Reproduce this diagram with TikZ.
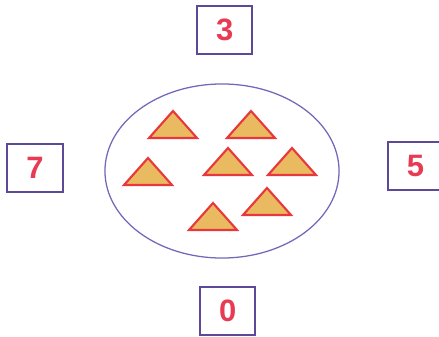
\documentclass[tikz,border=0pt]{standalone}
\usepackage{fontspec}
\setmainfont{Liberation Sans}
\usetikzlibrary{positioning,shapes.geometric}
\definecolor{boxline}{RGB}{92,74,152}
\definecolor{digitred}{RGB}{232,58,82}
\definecolor{ovalline}{RGB}{112,104,184}
\definecolor{trifill}{RGB}{234,186,96}
\definecolor{triline}{RGB}{232,56,60}

\begin{document}
\begin{tikzpicture}[
    x=0.025cm, y=-0.025cm,
    numbox/.style={draw=boxline, line width=1.3pt, minimum width=1.38cm, minimum height=1.2cm, inner sep=0pt, text=digitred, font=\bfseries\fontsize{22}{26}\selectfont},
    token/.style={draw=triline, fill=trifill, line width=1.5pt, line join=miter}
  ]
    \useasboundingbox (0,0) rectangle (439,336);

    % the set
    \node[draw=ovalline, line width=0.9pt, ellipse, minimum width=5.85cm, minimum height=4.35cm] (set) at (222,171) {};

    % the four numbers round it
    \node[numbox, above=0.72cm of set, xshift=0.07cm] (top) {3};
    \node[numbox, below=0.68cm of set, xshift=0.14cm] (bottom) {0};
    \node[numbox, left=1.02cm of set, yshift=0.08cm] (left) {7};
    \node[numbox, right=1.18cm of set, yshift=0.12cm] (right) {5};

    % triangles inside the set
    \foreach \x/\y in {173/111, 251/111, 148/158, 228/148, 292/148, 267/188, 213/203}
      \draw[token] (\x,\y) -- ++(24,27) -- ++(-48,0) -- cycle;
  \end{tikzpicture}
\end{document}
